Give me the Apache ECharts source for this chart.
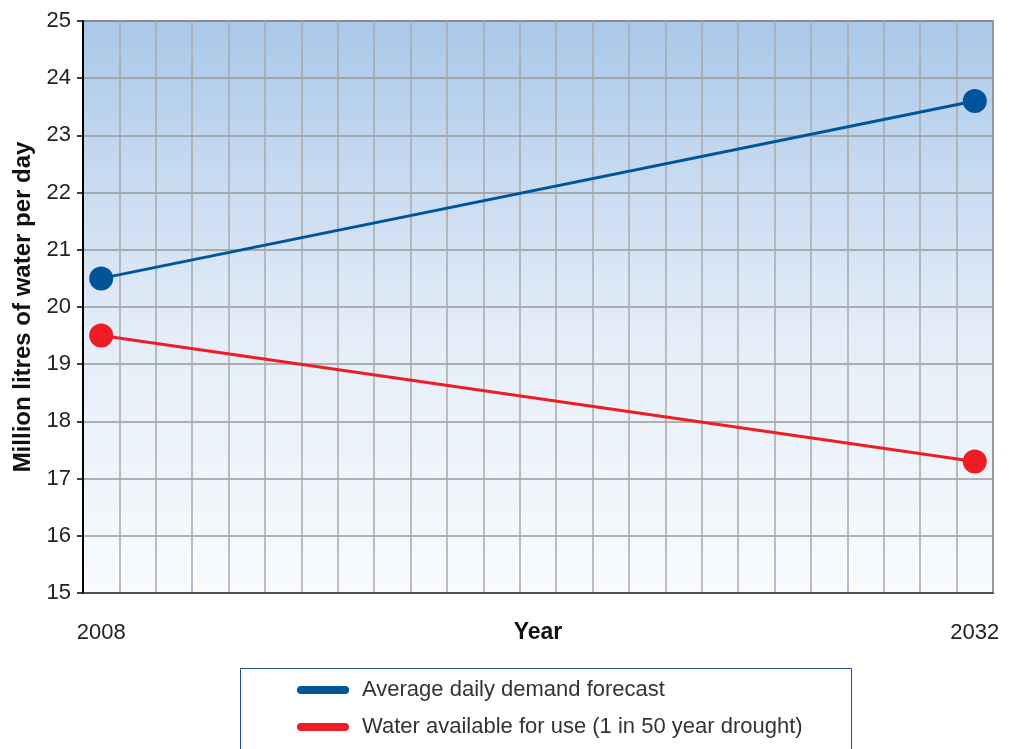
<!DOCTYPE html>
<html>
<head>
<meta charset="utf-8">
<style>
  html, body { margin: 0; padding: 0; background: #fff; }
  #chart { width: 1009px; height: 749px; }
</style>
<script src="https://cdn.jsdelivr.net/npm/echarts@6/dist/echarts.min.js"></script>
</head>
<body>
<div id="chart"></div>
<script>
// Years on the horizontal axis (one band per year)
const years = ['2008','2009','2010','2011','2012','2013','2014','2015','2016','2017','2018','2019',
  '2020','2021','2022','2023','2024','2025','2026','2027','2028','2029','2030','2031','2032'];
const labelledYears = ['2008', '2032'];

// Million litres per day at the start and end of the planning period
const demandYears = ['2008', '2032'];
const demandValues = [20.5, 23.6];
const availableYears = ['2008', '2032'];
const availableValues = [19.5, 17.3];

const demandName = 'Average daily demand forecast';
const availableName = 'Water available for use (1 in 50 year drought)';

const FONT = '"Liberation Sans", Arial, Helvetica, sans-serif';
const chart = echarts.init(document.getElementById('chart'));

const pillIcon = 'path://M4,0 H48 A4,4 0 0 1 48,8 H4 A4,4 0 0 1 4,0 Z';

chart.setOption({
  animation: false,
  textStyle: { fontFamily: FONT },
  grid: {
    left: 83, right: 16, top: 21, bottom: 156,
    outerBoundsMode: 'none',
    containLabel: false,
    show: true,
    borderColor: '#3a3a3a',
    borderWidth: 1.5,
    backgroundColor: {
      type: 'linear', x: 0, y: 0, x2: 0, y2: 1,
      colorStops: [
        { offset: 0, color: '#aac8e8' },
        { offset: 0.55, color: '#e4edf8' },
        { offset: 1, color: '#f9fbfe' }
      ]
    }
  },
  graphic: [{
    type: 'rect',
    shape: { x: 240.5, y: 668.5, width: 611, height: 100 },
    style: { fill: 'none', stroke: '#1f4f8c', lineWidth: 1 }
  }],
  legend: {
    orient: 'vertical',
    left: 292, top: 674,
    itemWidth: 52, itemHeight: 8,
    itemGap: 15,
    icon: pillIcon,
    textStyle: { fontSize: 22, color: '#333', fontFamily: FONT, padding: [0, 0, 0, 8] },
    data: [demandName, availableName]
  },
  xAxis: {
    type: 'category',
    data: years,
    boundaryGap: true,
    name: 'Year',
    nameLocation: 'middle',
    nameGap: 28,
    nameMoveOverlap: false,
    nameTextStyle: { fontSize: 23, fontWeight: 'bold', color: '#111', fontFamily: FONT },
    axisLine: { show: true, lineStyle: { color: '#3a3a3a', width: 1.5 } },
    axisTick: { show: false },
    axisLabel: {
      interval: 0,
      margin: 29,
      fontSize: 22,
      color: '#222',
      formatter: v => labelledYears.includes(v) ? v : ''
    },
    splitLine: { show: true, interval: 0, lineStyle: { color: '#a8a8a8', width: 1.5 } }
  },
  yAxis: {
    type: 'value',
    min: 15, max: 25, interval: 1,
    name: 'Million litres of water per day',
    nameLocation: 'middle',
    nameGap: 48,
    nameMoveOverlap: false,
    nameTextStyle: { fontSize: 24, fontWeight: 'bold', color: '#111', fontFamily: FONT },
    axisLine: { show: true, lineStyle: { color: '#000', width: 2 } },
    axisTick: { show: true, length: 6, lineStyle: { color: '#000', width: 1.5 } },
    axisLabel: { fontSize: 22, color: '#222', margin: 12 },
    splitLine: { show: true, lineStyle: { color: '#999', width: 1.5 } }
  },
  series: [
    {
      name: demandName,
      type: 'line',
      data: demandYears.map((y, i) => [y, demandValues[i]]),
      symbol: 'circle',
      symbolSize: 24,
      color: '#00559a',
      lineStyle: { width: 3, color: '#00559a' },
      itemStyle: { color: '#00559a' }
    },
    {
      name: availableName,
      type: 'line',
      data: availableYears.map((y, i) => [y, availableValues[i]]),
      symbol: 'circle',
      symbolSize: 24,
      color: '#ee1c25',
      lineStyle: { width: 3, color: '#ee1c25' },
      itemStyle: { color: '#ee1c25' }
    }
  ]
});
</script>
</body>
</html>
